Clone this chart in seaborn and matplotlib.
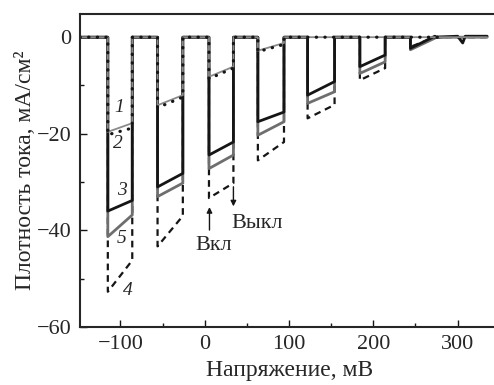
import numpy as np
import pandas as pd
import matplotlib
matplotlib.use("Agg")
import matplotlib.pyplot as plt
from matplotlib.ticker import MultipleLocator
import seaborn as sns

# light on / off potentials, mV
light_on = [-115, -56, 5, 63, 122, 184, 244]
light_off = [-86, -26, 34, 94, 154, 214, 273]

# photocurrent at light-on and at light-off for each curve, mA/cm2
c1_start = [-19.6, -14.1, -8.2, -2.8, 0, 0, 0]
c1_end = [-17.8, -12.0, -6.1, -1.2, 0, 0, 0]
c2_start = [-20.2, -14.6, -8.6, -3.0, 0, 0, 0]
c2_end = [-18.8, -12.4, -6.4, -1.5, 0, 0, 0]
c3_start = [-36.0, -31.0, -24.4, -17.5, -12.0, -6.1, -2.3]
c3_end = [-33.8, -28.2, -21.7, -15.5, -9.2, -3.7, 0.2]
c4_start = [-52.7, -43.3, -33.3, -25.5, -16.8, -8.9, -2.0]
c4_end = [-46.2, -37.0, -30.2, -21.7, -14.0, -6.4, 0]
c5_start = [-41.3, -33.0, -27.2, -20.3, -13.7, -7.5, -2.6]
c5_end = [-36.8, -30.2, -24.4, -17.5, -11.3, -5.1, -0.2]

# tail after the last pulse (small blip)
tail_x = [300, 306, 309, 335]
tail_y = [0.2, -1.2, 0.2, 0.2]


def chop_curve(starts, ends, x0=-148, x_end=335, tail=False):
    xs, ys = [x0], [0]
    for a, b, s, e in zip(light_on, light_off, starts, ends):
        xs += [a, a, b, b]
        ys += [0, s, e, 0]
    if tail:
        xs += tail_x
        ys += tail_y
    else:
        xs.append(x_end)
        ys.append(0)
    return pd.DataFrame({"U": xs, "j": ys})


sns.set_style("ticks")
plt.rcParams["font.family"] = ["Liberation Serif", "DejaVu Serif"]
plt.rcParams["axes.linewidth"] = 1.5

fig = plt.figure(figsize=(4.94, 3.85), dpi=100)
ax = fig.add_axes([80 / 494, 58 / 385, 1 - 80 / 494 + 0.01, 313 / 385])

black = "#151515"
gray = "#6e6e6e"

sns.lineplot(data=chop_curve(c4_start, c4_end), x="U", y="j", sort=False,
             estimator=None, color=black, lw=1.6, linestyle=(0, (3, 2.2)), ax=ax)
sns.lineplot(data=chop_curve(c5_start, c5_end), x="U", y="j", sort=False,
             estimator=None, color=gray, lw=2.0, ax=ax)
sns.lineplot(data=chop_curve(c3_start, c3_end, tail=True), x="U", y="j", sort=False,
             estimator=None, color=black, lw=2.0, ax=ax)
sns.lineplot(data=chop_curve(c1_start, c1_end), x="U", y="j", sort=False,
             estimator=None, color="#8a8a8a", lw=1.3, ax=ax)
sns.lineplot(data=chop_curve(c2_start, c2_end, x_end=278), x="U", y="j", sort=False,
             estimator=None, color=black, lw=2.3, linestyle=(0, (0.1, 2.6)),
             dash_capstyle="round", ax=ax)

ax.set_xlim(-148, 349)
ax.set_ylim(-60, 4.8)
ax.xaxis.set_major_locator(MultipleLocator(100))
ax.xaxis.set_minor_locator(MultipleLocator(50))
ax.yaxis.set_major_locator(MultipleLocator(20))
ax.yaxis.set_minor_locator(MultipleLocator(10))
ax.tick_params(which="both", direction="in", labelsize=16, color=black)
ax.tick_params(which="major", length=5, width=1, pad=6)
ax.tick_params(which="minor", length=3, width=1)
ax.spines["right"].set_visible(False)

ax.set_xlabel("Напряжение, мВ", fontsize=17, labelpad=4)
ax.set_ylabel("Плотность тока, мА/см²", fontsize=17, labelpad=1)

# curve numbers
for txt, x, y in [("1", -102, -14.5), ("2", -103, -22), ("3", -98, -31.7),
                  ("5", -99, -41.6), ("4", -91, -52.4)]:
    ax.text(x, y, txt, fontsize=14, style="italic", ha="center", va="center")

# light on / off markers
arrow = dict(arrowstyle="-|>", color=black, lw=1, mutation_scale=8)
ax.annotate("", xy=(5.6, -34.6), xytext=(5.6, -40.5), arrowprops=arrow)
ax.annotate("", xy=(34, -35.6), xytext=(34, -30.4), arrowprops=arrow)
ax.text(10.5, -43.1, "Вкл", fontsize=16, ha="center", va="center")
ax.text(62, -38.5, "Выкл", fontsize=16, ha="center", va="center")

fig.savefig("out.png", dpi=100)
